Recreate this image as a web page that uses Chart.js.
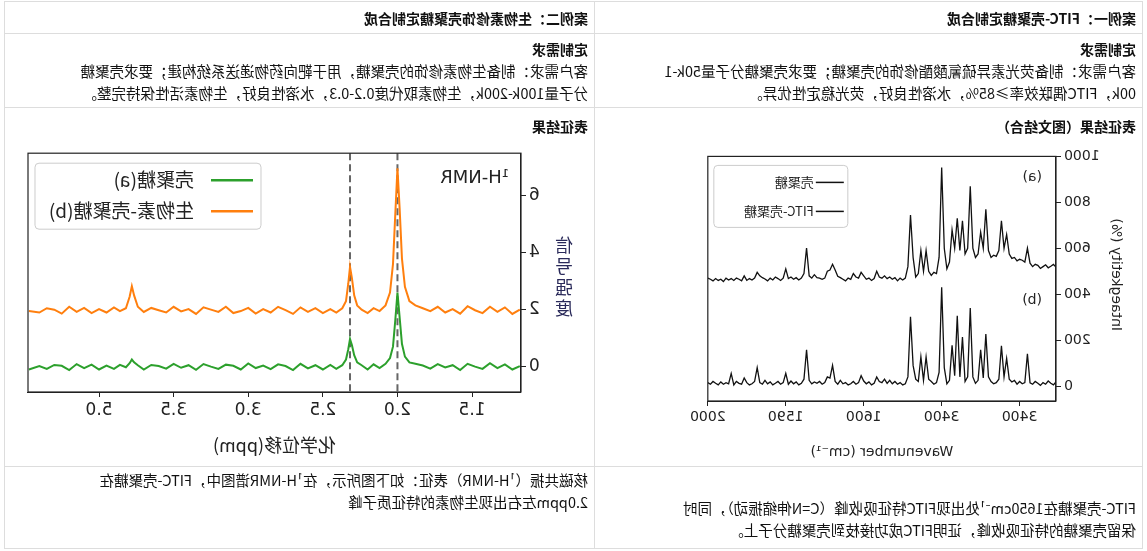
<!DOCTYPE html>
<html>
<head>
<meta charset="utf-8">
<script src="https://cdn.jsdelivr.net/npm/chart.js@4/dist/chart.umd.min.js"></script>
<style>
  html, body { margin: 0; padding: 0; background: #fff; }
  body { width: 1147px; height: 551px; position: relative; overflow: hidden; transform: scaleX(-1);
    font-family: "Noto Sans CJK SC", "Noto Sans", sans-serif; color: #111; }
  .cell { position: absolute; box-sizing: border-box; border: 1px solid #ddd; padding: 6px 6px; font-size: 14.5px; line-height: 22px; white-space: nowrap; }
  .b { font-weight: bold; font-size: 14px; }
  canvas { position: absolute; }
</style>
</head>
<body>
<div class="cell b" style="left:4px;top:1px;width:549px;height:33px;padding-top:5px;">案例一：FITC-壳聚糖定制合成</div>
<div class="cell b" style="left:552px;top:1px;width:591px;height:33px;padding-top:5px;">案例二：生物素修饰壳聚糖定制合成</div>
<div class="cell" style="left:4px;top:33px;width:549px;height:75px;padding-top:4px;"><span class="b">定制需求</span><br>客户需求：制备荧光素异硫氰酸酯修饰的壳聚糖；要求壳聚糖分子量50k-1<br>00k，FITC偶联效率≥85%，水溶性良好，荧光稳定性优异。</div>
<div class="cell" style="left:552px;top:33px;width:591px;height:75px;padding-top:4px;"><span class="b">定制需求</span><br>客户需求：制备生物素修饰的壳聚糖，用于靶向药物递送系统构建；要求壳聚糖<br>分子量100k-200k，生物素取代度0.2-0.3，水溶性良好，生物素活性保持完整。</div>
<div class="cell b" style="left:4px;top:107px;width:549px;height:360px;padding-top:7px;">表征结果（图文结合）</div>
<div class="cell b" style="left:552px;top:107px;width:591px;height:360px;padding-top:7px;">表征结果</div>
<div class="cell" style="left:4px;top:466px;width:549px;height:83px;padding-top:30px;">FITC-壳聚糖在1650cm⁻¹处出现FITC特征吸收峰（C=N伸缩振动），同时<br>保留壳聚糖的特征吸收峰，证明FITC成功接枝到壳聚糖分子上。</div>
<div class="cell" style="left:552px;top:466px;width:591px;height:83px;padding-top:2px;">核磁共振（¹H-NMR）表征：如下图所示，在¹H-NMR谱图中，FITC-壳聚糖在<br>2.0ppm左右出现生物素的特征质子峰</div>

<canvas id="ir" style="left:20px;top:145px;"></canvas>
<canvas id="nmr" style="left:550px;top:140px;"></canvas>

<script>
// IR spectra, one value per 1/30 tick step (index 0..135)
const irTicks = [15, 45, 75, 105, 135];
const irTickLabels = ['3400', '3400', '1600', '1590', '2000'];
const irA = [525,518,530,522,515,528,520,512,526,530,520,535,
  600,
  540,548,552,545,560,556,
  575,660,600,720,590,565,570,560,590,770,600,670,575,560,600,870,600,575,720,590,730,600,680,540,510,600,952,560,490,495,482,500,590,500,590,490,475,560,745,520,470,
  462,470,458,472,465,475,468,480,470,475,
  500,468,460,470,465,480,495,470,475,490,465,
  470,458,465,472,478,505,
  530,505,500,470,465,470,472,485,470,480,601,490,470,
  462,472,465,475,468,
  510,470,460,468,475,462,470,458,466,472,480,495,470,462,468,460,480,458,465,470,460,468,462,470,455,465,460,468,458,465,470];
const irB = [10,18,5,12,22,8,15,3,12,20,8,14,
  140,
  15,10,20,8,25,18,
  30,120,40,175,30,15,10,20,40,227,35,158,25,12,40,340,40,20,213,40,306,45,177,25,10,80,430,60,15,8,20,30,127,25,127,20,30,90,302,40,10,
  5,15,8,20,10,25,12,30,15,20,
  40,12,5,18,10,22,45,15,8,20,10,
  5,15,10,25,8,20,
  90,35,40,15,8,20,12,18,10,25,158,30,12,
  5,18,10,22,8,
  55,15,8,20,12,5,18,10,25,8,15,80,20,10,5,15,35,8,12,20,5,55,10,15,8,18,5,12,20,8,15];
const irYTicks = [0, 200, 400, 600, 800, 1000];
const irLabels = ['壳聚糖', 'FITC-壳聚糖'];

// 1H-NMR spectra
const nmrTicks = [1.5, 2.0, 2.5, 3.0, 3.5, 4.0];
const nmrTickLabels = ['1.5', '2.0', '2.5', '3.0', '3.5', '5.0'];
const nmrPeaks = [2.0, 2.318];
const nmrX = [1.18,1.23,1.28,1.33,1.38,1.43,1.48,1.53,1.58,1.63,1.68,1.73,1.78,1.83,1.88,
  1.92,1.95,1.97,1.985,2.0,2.015,2.03,2.05,2.08,
  2.12,2.16,2.20,2.24,2.27,2.29,2.305,2.318,2.33,2.345,2.37,2.41,2.45,
  2.50,2.55,2.60,2.65,2.70,2.75,2.80,2.85,2.90,2.95,3.00,3.05,3.10,3.15,3.20,3.25,3.30,3.35,3.40,3.45,3.50,3.55,3.60,3.65,3.70,
  3.74,3.765,3.78,3.795,3.82,3.86,3.90,3.95,
  4.00,4.05,4.10,4.15,4.20,4.25,4.30,4.35,4.40,4.47];
const greenY = [0.02,-0.1,0.08,-0.05,0.12,-0.08,0.0,0.1,-0.12,0.05,-0.03,0.09,-0.07,0.04,0.1,
  0.15,0.35,0.8,1.7,2.6,1.6,0.7,0.3,0.1,
  -0.05,0.08,-0.1,0.05,0.15,0.4,0.75,0.97,0.6,0.25,0.05,-0.08,0.06,
  -0.1,0.05,-0.06,0.1,-0.12,0.02,0.08,-0.09,0.04,-0.05,0.11,-0.1,0.03,0.07,-0.08,0.0,0.09,-0.11,0.05,-0.04,0.1,-0.07,0.02,0.06,-0.1,
  0.05,0.15,0.25,0.12,-0.02,0.06,-0.08,0.04,
  -0.1,0.07,-0.05,0.09,-0.12,0.03,0.06,-0.08,0.02,-0.1];
const orangeY = [2.0,1.85,2.08,1.92,2.1,1.88,1.98,2.12,1.86,2.02,1.9,2.1,1.95,2.05,2.15,
  2.3,2.8,3.8,5.5,6.96,5.3,3.6,2.6,2.15,
  1.95,2.05,1.88,2.0,2.15,2.5,3.1,3.5,2.9,2.3,2.05,1.9,2.02,
  1.88,2.05,1.92,2.08,1.85,1.98,2.1,1.9,2.02,1.86,2.06,1.95,1.88,2.1,1.92,2.0,2.08,1.85,2.02,1.94,2.1,1.9,1.98,2.06,1.92,
  2.1,2.5,2.82,2.45,2.05,1.95,2.08,1.9,
  2.02,1.88,2.06,1.92,2.1,1.86,2.0,2.05,1.9,1.95];
const nmrYTicks = [0, 2, 4, 6];
const nmrLabels = ['壳聚糖(a)', '生物素-壳聚糖(b)'];
const green = '#2ca02c', orange = '#ff7f0e';

const mpl = 'DejaVu Sans';

function axisBox(chart) {
  const { ctx, chartArea: a } = chart;
  ctx.save();
  ctx.strokeStyle = '#222';
  ctx.lineWidth = 1.2;
  ctx.strokeRect(a.left, a.top, a.right - a.left, a.bottom - a.top);
  ctx.restore();
}

function legendBox(ctx, x, y, w, h) {
  ctx.save();
  ctx.fillStyle = 'rgba(255,255,255,0.85)';
  ctx.strokeStyle = '#ccc';
  ctx.lineWidth = 1;
  ctx.beginPath();
  ctx.roundRect(x, y, w, h, 4);
  ctx.fill();
  ctx.stroke();
  ctx.restore();
}

const irCanvas = document.getElementById('ir');
irCanvas.width = 440; irCanvas.height = 320;
new Chart(irCanvas, {
  type: 'line',
  data: {
    datasets: [
      { label: irLabels[0], data: irA.map((v, i) => ({ x: i, y: v })), borderColor: '#111', borderWidth: 1.3, pointRadius: 0, tension: 0 },
      { label: irLabels[1], data: irB.map((v, i) => ({ x: i, y: v })), borderColor: '#111', borderWidth: 1.3, pointRadius: 0, tension: 0 }
    ]
  },
  options: {
    responsive: false, animation: false,
    layout: { padding: { top: 9, right: 12, left: 0, bottom: 0 } },
    plugins: { legend: { display: false }, tooltip: { enabled: false } },
    scales: {
      x: {
        type: 'linear', min: 1, max: 135,
        afterBuildTicks: s => { s.ticks = irTicks.map(v => ({ value: v })); },
        afterFit: s => { s.height = 64; },
        ticks: { color: '#222', font: { family: mpl, size: 14 }, maxRotation: 0, autoSkip: false,
          callback: v => irTickLabels[irTicks.indexOf(v)] },
        grid: { drawOnChartArea: false, color: '#222', tickLength: 5 },
        border: { color: '#222' },
        title: { display: true, text: 'Wavenumber (cm⁻¹)', color: '#222', font: { family: mpl, size: 14 }, padding: { top: 4 } }
      },
      y: {
        min: -65, max: 1000,
        afterBuildTicks: s => { s.ticks = irYTicks.map(v => ({ value: v })); },
        afterFit: s => { s.width = 71; },
        ticks: { color: '#222', font: { family: mpl, size: 14 }, callback: v => String(v) },
        grid: { drawOnChartArea: false, color: '#222', tickLength: 5 },
        border: { color: '#222' }
      }
    }
  },
  plugins: [{
    id: 'irDeco',
    afterDraw(chart) {
      const { ctx, chartArea: a } = chart;
      axisBox(chart);
      ctx.save();
      ctx.fillStyle = '#222';
      ctx.font = '14px ' + mpl;
      ctx.textBaseline = 'middle';
      ctx.fillText('(a)', a.left + 14, 177 - 145);
      ctx.fillText('(b)', a.left + 14, 300 - 145);
      ctx.translate(11, (a.top + a.bottom) / 2 - 4);
      ctx.rotate(-Math.PI / 2);
      ctx.textAlign = 'center';
      ctx.fillText('Intaegketity (%)', 0, 0);
      ctx.restore();
      const lx = a.right - 140, ly = a.top + 9;
      legendBox(ctx, lx, ly, 134, 62);
      ctx.save();
      ctx.font = '13px "Noto Sans CJK SC"';
      ctx.textBaseline = 'middle';
      irLabels.forEach((t, i) => {
        const yy = ly + 17 + i * 29;
        ctx.strokeStyle = '#111'; ctx.lineWidth = 1.5;
        ctx.beginPath(); ctx.moveTo(lx + 4, yy); ctx.lineTo(lx + 32, yy); ctx.stroke();
        ctx.fillStyle = '#222';
        ctx.fillText(t, lx + 34, yy);
      });
      ctx.restore();
    }
  }]
});

const nmrCanvas = document.getElementById('nmr');
nmrCanvas.width = 590; nmrCanvas.height = 320;
new Chart(nmrCanvas, {
  type: 'line',
  data: {
    datasets: [
      { label: nmrLabels[0], data: nmrX.map((x, i) => ({ x, y: greenY[i] })), borderColor: green, borderWidth: 2, pointRadius: 0, tension: 0 },
      { label: nmrLabels[1], data: nmrX.map((x, i) => ({ x, y: orangeY[i] })), borderColor: orange, borderWidth: 2, pointRadius: 0, tension: 0 }
    ]
  },
  options: {
    responsive: false, animation: false,
    layout: { padding: { top: 10, right: 21, left: 0, bottom: 0 } },
    plugins: { legend: { display: false }, tooltip: { enabled: false } },
    scales: {
      x: {
        type: 'linear', min: 1.172, max: 4.476,
        afterBuildTicks: s => { s.ticks = nmrTicks.map(v => ({ value: v })); },
        afterFit: s => { s.height = 68; },
        ticks: { color: '#222', font: { family: mpl, size: 17 }, maxRotation: 0, autoSkip: false,
          callback: v => nmrTickLabels[nmrTicks.indexOf(v)] },
        grid: { drawOnChartArea: false, color: '#222', tickLength: 5 },
        border: { color: '#222' },
        title: { display: true, text: '化学位移(ppm)', color: '#222', font: { family: '"Noto Sans CJK SC"', size: 18 }, padding: { top: 0 } }
      },
      y: {
        min: -0.89, max: 7.49,
        afterBuildTicks: s => { s.ticks = nmrYTicks.map(v => ({ value: v })); },
        afterFit: s => { s.width = 76; },
        ticks: { color: '#222', font: { family: mpl, size: 17 } },
        grid: { drawOnChartArea: false, color: '#222', tickLength: 5 },
        border: { color: '#222' }
      }
    }
  },
  plugins: [{
    id: 'nmrDeco',
    beforeDatasetsDraw(chart) {
      const { ctx, chartArea: a, scales: { x } } = chart;
      ctx.save();
      ctx.strokeStyle = '#666'; ctx.lineWidth = 2; ctx.setLineDash([7, 4]);
      nmrPeaks.forEach(p => {
        const px = x.getPixelForValue(p);
        ctx.beginPath(); ctx.moveTo(px, a.top); ctx.lineTo(px, a.bottom); ctx.stroke();
      });
      ctx.restore();
    },
    afterDraw(chart) {
      const { ctx, chartArea: a } = chart;
      axisBox(chart);
      ctx.save();
      ctx.fillStyle = '#222';
      ctx.font = '18px ' + mpl;
      ctx.textBaseline = 'middle';
      ctx.fillText('¹H-NMR', a.left + 12, a.top + 25);
      ctx.fillStyle = '#2a2a5a';
      ctx.font = '18px "Noto Sans CJK SC"';
      ctx.textAlign = 'center';
      '信号强度'.split('').forEach((c, i) => ctx.fillText(c, 33, 245 - 140 + i * 21));
      ctx.restore();
      const lx = a.right - 233, ly = a.top + 10;
      legendBox(ctx, lx, ly, 226, 66);
      ctx.save();
      ctx.font = '19px "Noto Sans CJK SC"';
      ctx.textBaseline = 'middle';
      nmrLabels.forEach((t, i) => {
        const yy = ly + 17 + i * 31;
        ctx.strokeStyle = i ? orange : green; ctx.lineWidth = 2.5;
        ctx.beginPath(); ctx.moveTo(lx + 8, yy); ctx.lineTo(lx + 50, yy); ctx.stroke();
        ctx.fillStyle = '#222';
        ctx.fillText(t, lx + 67, yy);
      });
      ctx.restore();
    }
  }]
});
</script>
</body>
</html>
